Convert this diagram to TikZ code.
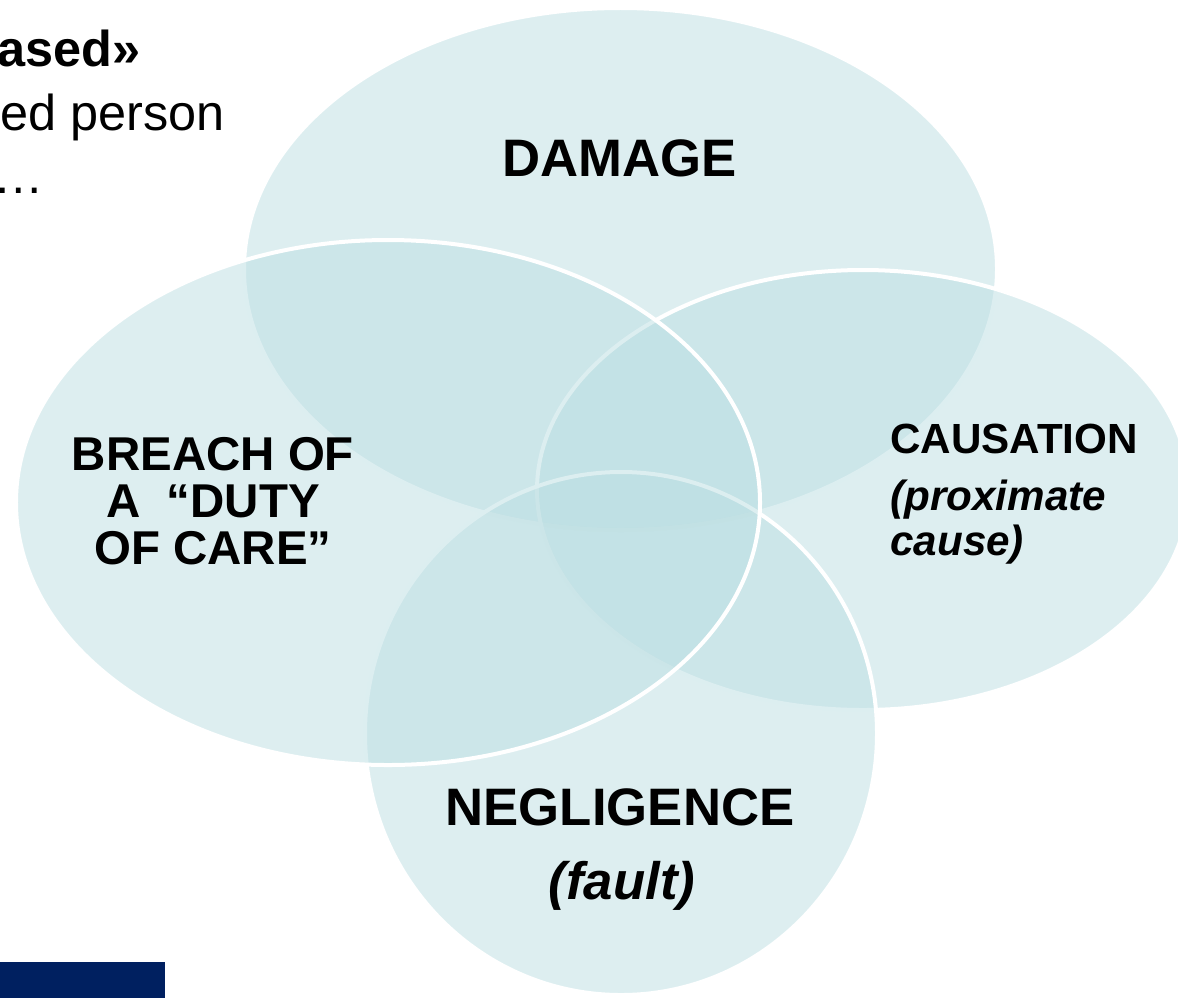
\documentclass[tikz,border=0pt]{standalone}
\usepackage{fontspec}
\setmainfont{Liberation Sans}
\usepackage{xcolor}
\usetikzlibrary{positioning,shapes.geometric}
\definecolor{venncol}{RGB}{187,222,226}
\definecolor{navycol}{HTML}{002060}

\begin{document}
\begin{tikzpicture}[x=0.2mm,y=-0.2mm,
   venn/.style={ellipse,draw=white,line width=0.8mm,fill=venncol,fill opacity=0.5,
              draw opacity=1,inner sep=0pt},
   lbl/.style={inner sep=0pt,align=center,font=\bfseries\fontsize{30}{30}\selectfont},
   side/.style={inner sep=0pt,align=left,font=\bfseries\itshape\fontsize{24}{25.5}\selectfont},
   hdr/.style={inner sep=0pt,anchor=base east,font=\fontsize{28.7}{30}\selectfont},
]
\useasboundingbox (0,0) rectangle (1178,997);

% the four circles, drawn clockwise from the top
\node[venn,minimum width=150.6mm,minimum height=104.4mm] (damage) at (620.5,269) {};
\node[venn,minimum width=130.4mm,minimum height=88mm]    (causation) at (863,490) {};
\node[venn,minimum width=102.4mm,minimum height=104.6mm] (negligence) at (621,733.5) {};
\node[venn,minimum width=148.8mm,minimum height=105mm]   (breach) at (388,502.5) {};

% labels (base = baseline of the last line)
\node[lbl,anchor=base] (tdamage) at (620,176) {DAMAGE};
\node[lbl,anchor=base,font=\bfseries\fontsize{27}{26.7}\selectfont]
     (tbreach) at (213,564) {BREACH OF\\A\ \ “DUTY\\OF CARE”};
\node[lbl,anchor=base west,font=\bfseries\fontsize{24}{24}\selectfont]
     (tcaus) at (890,453) {CAUSATION};
\node[side,anchor=base west] (tprox) at (890,555) {(proximate\\cause)};
\node[lbl,anchor=base] (tneg) at (620,825) {NEGLIGENCE};
\node[lbl,anchor=base,font=\bfseries\itshape\fontsize{30}{30}\selectfont]
     (tfault) at (622,899) {(fault)};

% slide text cut off at the left edge
\node[hdr,font=\bfseries\fontsize{28.7}{30}\selectfont] (based) at (141,66) {ased»};
\node[hdr] (person) at (225,130) {ed person};
\node[hdr] (dots) at (44,193) {…};

\node[fill=navycol,inner sep=0pt,anchor=north west,minimum width=33mm,
      minimum height=8mm] (bar) at (0,962) {};
\end{tikzpicture}
\end{document}
